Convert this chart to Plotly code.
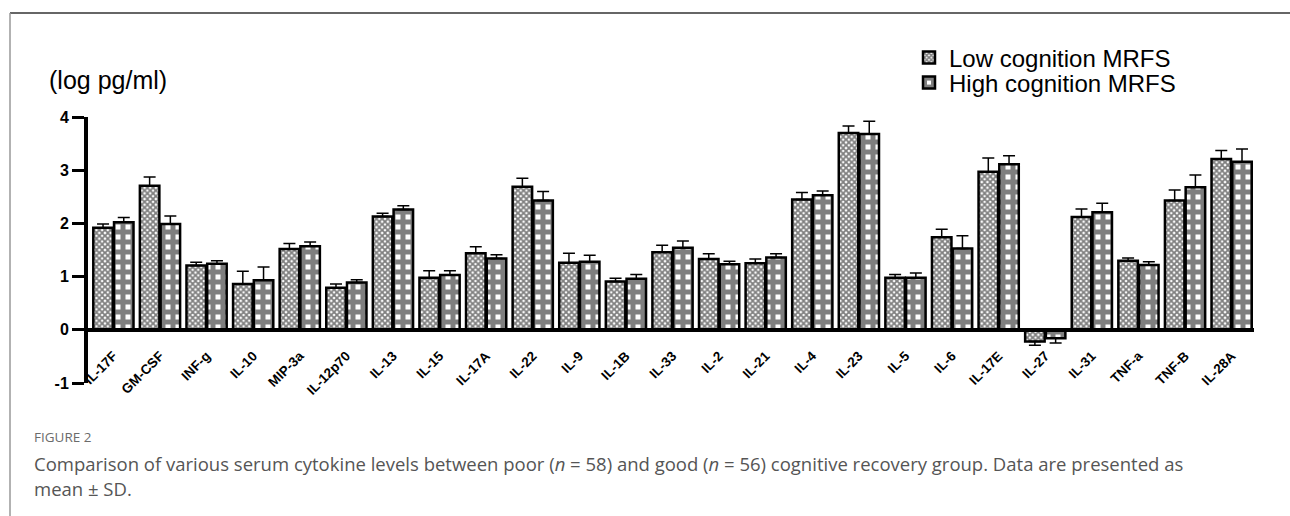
import plotly.graph_objects as go

categories = ["IL-17F", "GM-CSF", "INF-g", "IL-10", "MIP-3a", "IL-12p70", "IL-13", "IL-15",
              "IL-17A", "IL-22", "IL-9", "IL-1B", "IL-33", "IL-2", "IL-21", "IL-4", "IL-23",
              "IL-5", "IL-6", "IL-17E", "IL-27", "IL-31", "TNF-a", "TNF-B", "IL-28A"]
low_mean = [1.92, 2.71, 1.21, 0.86, 1.52, 0.79, 2.13, 0.98, 1.44, 2.69, 1.26, 0.91, 1.46,
            1.33, 1.25, 2.45, 3.70, 0.98, 1.74, 2.97, -0.22, 2.12, 1.30, 2.43, 3.21]
low_sd = [0.07, 0.16, 0.06, 0.24, 0.10, 0.07, 0.06, 0.13, 0.12, 0.16, 0.18, 0.06, 0.13,
          0.10, 0.08, 0.13, 0.13, 0.06, 0.15, 0.26, 0.07, 0.15, 0.05, 0.20, 0.16]
high_mean = [2.02, 1.99, 1.24, 0.93, 1.57, 0.89, 2.26, 1.03, 1.34, 2.43, 1.28, 0.96, 1.54,
             1.23, 1.36, 2.53, 3.68, 0.98, 1.53, 3.11, -0.16, 2.21, 1.22, 2.68, 3.16]
high_sd = [0.09, 0.15, 0.06, 0.25, 0.08, 0.05, 0.07, 0.08, 0.07, 0.17, 0.12, 0.08, 0.13,
           0.06, 0.07, 0.08, 0.24, 0.09, 0.24, 0.16, 0.09, 0.17, 0.06, 0.23, 0.24]
y_ticks = [-1, 0, 1, 2, 3, 4]
y_tick_labels = ["-1", "0", "1", "2", "3", "4"]

L, R, T, B = 88, 36, 117, 133
W, H = 1290, 516
PW, PH = W - L - R, H - T - B


def px(xp):
    return (xp - L) / PW


def py(yp):
    return (H - B - yp) / PH


def up(m, s):
    return [sd if v >= 0 else 0 for v, sd in zip(m, s)]


def down(m, s):
    return [sd if v < 0 else 0 for v, sd in zip(m, s)]


fig = go.Figure()
fig.add_trace(go.Bar(
    x=categories, y=low_mean, name="Low cognition MRFS", legend="legend",
    marker=dict(color="white", line=dict(color="black", width=2.5),
                pattern=dict(shape="x", size=4, solidity=0.7, fgcolor="black", bgcolor="white")),
    error_y=dict(type="data", symmetric=False, array=up(low_mean, low_sd),
                 arrayminus=down(low_mean, low_sd), color="black", thickness=1.5, width=6),
))
fig.add_trace(go.Bar(
    x=categories, y=high_mean, name="High cognition MRFS", legend="legend2",
    marker=dict(color="white", line=dict(color="black", width=2.5),
                pattern=dict(shape="+", size=10, solidity=0.75, fgcolor="black", bgcolor="white")),
    error_y=dict(type="data", symmetric=False, array=up(high_mean, high_sd),
                 arrayminus=down(high_mean, high_sd), color="black", thickness=1.5, width=6),
))

legend_font = dict(size=24, family="Arial, Liberation Sans, sans-serif", color="black")
fig.update_layout(
    width=W, height=H,
    margin=dict(l=L, r=R, t=T, b=B, pad=0),
    paper_bgcolor="white", plot_bgcolor="white",
    barmode="group", bargap=0.11, bargroupgap=0.06,
    font=dict(family="Arial, Liberation Sans, sans-serif", color="black"),
    showlegend=True,
    legend=dict(x=px(909), y=py(58), xanchor="left", yanchor="middle",
                font=legend_font, bgcolor="rgba(0,0,0,0)", itemwidth=30),
    legend2=dict(x=px(909), y=py(83), xanchor="left", yanchor="middle",
                 font=legend_font, bgcolor="rgba(0,0,0,0)", itemwidth=30),
    xaxis=dict(range=[-0.545, 24.48], anchor="free", position=0.2,
               showline=True, linecolor="black", linewidth=4,
               ticks="", tickangle=-45, ticklabelstandoff=11,
               tickfont=dict(size=13.5, family="Arial, Liberation Sans, sans-serif", weight="bold"),
               showgrid=False, zeroline=False),
    yaxis=dict(range=[-1, 4], tickvals=y_ticks, ticktext=y_tick_labels,
               showline=True, linecolor="black", linewidth=4,
               ticks="outside", ticklen=12, tickwidth=3, tickcolor="black",
               tickfont=dict(size=16, weight="bold"),
               showgrid=False, zeroline=False),
)

fig.add_annotation(text="(log pg/ml)", xref="paper", yref="paper", x=px(47), y=py(80),
                   xanchor="left", yanchor="middle", showarrow=False,
                   font=dict(size=25, family="Arial, Liberation Sans, sans-serif"))
fig.add_annotation(text="FIGURE 2", xref="paper", yref="paper", x=px(32), y=py(437),
                   xanchor="left", yanchor="middle", showarrow=False,
                   font=dict(size=13.5, color="#6b6b6b", family="Open Sans, sans-serif"))
fig.add_annotation(text="Comparison of various serum cytokine levels between poor (<i>n</i> = 58) and good (<i>n</i> = 56) cognitive recovery group. Data are presented as",
                   xref="paper", yref="paper", x=px(32), y=py(463),
                   xanchor="left", yanchor="middle", showarrow=False,
                   font=dict(size=18.5, color="#555555", family="Open Sans, sans-serif"))
fig.add_annotation(text="mean ± SD.",
                   xref="paper", yref="paper", x=px(32), y=py(488),
                   xanchor="left", yanchor="middle", showarrow=False,
                   font=dict(size=18.5, color="#555555", family="Open Sans, sans-serif"))

# figure frame (top and left border)
fig.add_shape(type="line", xref="paper", yref="paper", x0=px(10), x1=px(1290), y0=py(13), y1=py(13),
              line=dict(color="#333333", width=1.5))
fig.add_shape(type="line", xref="paper", yref="paper", x0=px(10), x1=px(10), y0=py(13), y1=py(516),
              line=dict(color="#999999", width=1.5))

fig.write_html("out.html", config={"displayModeBar": False},
               post_script="document.body.style.margin='0px';")
